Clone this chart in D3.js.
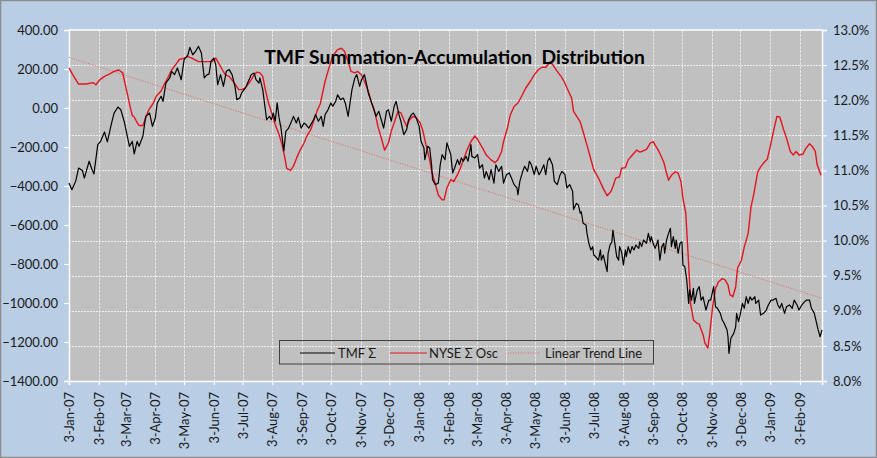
<!DOCTYPE html>
<html><head><meta charset="utf-8">
<script src="https://cdn.jsdelivr.net/npm/d3@7"></script>
<style>
html,body{margin:0;padding:0;background:#fff;}
svg{display:block;}
</style></head>
<body>
<svg id="chart" width="877" height="458"></svg>
<script>
// ---------------- DATA ----------------
const chartTitle = "TMF Summation-Accumulation  Distribution";
const startDate = new Date(2007, 0, 3);   // 3-Jan-07
const spanDays = 785;                      // last observation 26-Feb-09
const leftTicks = [400, 200, 0, -200, -400, -600, -800, -1000, -1200, -1400];
const rightTicks = [13.0, 12.5, 12.0, 11.5, 11.0, 10.5, 10.0, 9.5, 9.0, 8.5, 8.0];
const seriesNames = ["TMF \u03A3", "NYSE \u03A3 Osc", "Linear Trend Line"];
// [days since 3-Jan-07, value]
const tmfSeries = [[0,-385],[3,-419],[7,-375],[10,-308],[14,-321],[16,-359],[18,-325],[21,-273],[24,-316],[26,-338],[30,-188],[33,-171],[37,-123],[40,-174],[44,-85],[47,-26],[51,5],[54,-9],[58,-77],[59,-103],[63,-197],[66,-171],[68,-235],[71,-171],[73,-196],[77,-145],[80,-43],[84,-26],[87,-94],[90,-51],[92,26],[96,60],[98,34],[101,128],[105,154],[107,188],[110,171],[113,205],[117,145],[120,248],[124,273],[126,311],[129,273],[132,291],[135,316],[138,282],[141,154],[144,171],[146,174],[148,239],[151,256],[153,222],[155,120],[158,171],[161,111],[164,188],[167,197],[170,171],[173,111],[175,43],[178,51],[180,77],[184,103],[187,137],[190,171],[193,179],[195,145],[198,128],[199,154],[202,94],[204,17],[206,-60],[209,-43],[211,-60],[213,-26],[215,-68],[217,26],[219,-51],[221,-103],[224,-220],[226,-120],[229,-103],[232,-68],[234,-43],[237,-77],[239,-48],[242,-103],[245,-77],[247,-85],[250,-103],[253,-77],[255,-60],[257,-34],[260,-68],[263,-43],[265,-94],[267,-34],[270,-9],[273,26],[275,9],[278,34],[280,68],[283,43],[286,51],[288,26],[291,-43],[293,26],[295,94],[298,154],[300,171],[303,111],[305,145],[308,171],[310,128],[312,77],[315,34],[318,-9],[320,-43],[323,-17],[326,-68],[328,-103],[331,-17],[333,-9],[336,-68],[339,9],[341,34],[344,-34],[346,-68],[349,-137],[352,-111],[354,-60],[357,-34],[359,-26],[362,-51],[365,-94],[367,-171],[370,-205],[371,-265],[374,-196],[376,-205],[378,-291],[379,-368],[382,-393],[385,-385],[387,-291],[389,-239],[392,-265],[394,-179],[398,-239],[400,-333],[402,-308],[405,-265],[407,-291],[409,-256],[411,-273],[414,-248],[416,-273],[419,-188],[420,-248],[423,-256],[426,-239],[428,-308],[431,-291],[433,-359],[435,-325],[438,-368],[440,-316],[443,-385],[445,-291],[448,-325],[451,-299],[453,-385],[456,-342],[459,-333],[462,-368],[464,-393],[467,-410],[468,-445],[470,-376],[473,-325],[475,-299],[478,-325],[480,-273],[482,-291],[485,-342],[487,-299],[490,-342],[492,-325],[495,-291],[497,-342],[499,-273],[501,-256],[504,-291],[506,-376],[509,-393],[512,-342],[514,-325],[517,-342],[519,-410],[522,-393],[525,-427],[526,-521],[529,-489],[531,-497],[533,-540],[534,-532],[536,-591],[539,-600],[540,-643],[542,-694],[544,-728],[546,-711],[547,-754],[549,-762],[552,-780],[554,-728],[555,-780],[557,-754],[559,-797],[561,-839],[562,-745],[564,-703],[566,-686],[567,-626],[569,-694],[571,-762],[573,-780],[574,-711],[576,-737],[578,-805],[580,-728],[581,-762],[583,-711],[585,-745],[587,-711],[589,-728],[591,-703],[594,-720],[595,-686],[597,-711],[599,-677],[602,-694],[604,-643],[606,-686],[607,-660],[609,-694],[611,-720],[613,-694],[614,-677],[616,-780],[618,-711],[620,-694],[621,-745],[623,-677],[625,-643],[627,-617],[628,-711],[630,-660],[632,-720],[633,-677],[635,-745],[637,-694],[639,-686],[640,-805],[642,-814],[644,-882],[646,-1002],[647,-933],[649,-985],[651,-925],[652,-1002],[655,-933],[657,-916],[659,-985],[661,-968],[664,-1036],[667,-985],[669,-985],[672,-916],[674,-1019],[676,-1027],[679,-1053],[681,-1087],[683,-1104],[686,-1138],[687,-1173],[688,-1258],[690,-1181],[693,-1156],[695,-1122],[696,-1053],[698,-1096],[700,-1053],[702,-1002],[704,-1027],[706,-968],[708,-1002],[710,-968],[712,-985],[715,-968],[716,-1002],[719,-985],[721,-1062],[724,-1053],[727,-1036],[729,-1010],[732,-985],[734,-985],[737,-976],[739,-1010],[741,-1027],[743,-1002],[746,-1053],[748,-1019],[751,-1010],[754,-1027],[756,-985],[759,-1010],[761,-1036],[764,-1010],[767,-993],[769,-985],[772,-985],[774,-1027],[777,-1053],[779,-1096],[781,-1138],[783,-1173],[785,-1138]];
// [days since 3-Jan-07, percent]
const nyseSeries = [[0,12.46],[4,12.36],[10,12.23],[18,12.23],[25,12.25],[28,12.22],[32,12.29],[37,12.34],[42,12.37],[47,12.41],[52,12.43],[56,12.39],[59,12.20],[61,12.08],[64,11.89],[66,11.78],[68,11.76],[71,11.68],[73,11.64],[77,11.64],[80,11.75],[83,11.86],[88,11.96],[91,12.06],[96,12.13],[99,12.22],[103,12.32],[107,12.43],[112,12.52],[115,12.58],[120,12.60],[124,12.62],[128,12.60],[135,12.55],[142,12.55],[149,12.55],[153,12.60],[156,12.53],[160,12.43],[163,12.36],[167,12.34],[172,12.25],[177,12.15],[180,12.15],[184,12.18],[189,12.27],[193,12.36],[196,12.40],[199,12.39],[202,12.34],[205,12.13],[208,11.96],[212,11.79],[215,11.65],[219,11.51],[222,11.37],[225,11.18],[227,11.03],[231,11.00],[234,11.06],[238,11.20],[241,11.29],[245,11.39],[248,11.49],[252,11.58],[255,11.70],[259,11.86],[262,11.95],[264,12.08],[267,12.27],[271,12.46],[275,12.63],[280,12.72],[284,12.74],[287,12.70],[291,12.55],[294,12.41],[298,12.39],[301,12.41],[305,12.36],[308,12.27],[312,12.13],[315,11.98],[319,11.82],[322,11.63],[326,11.44],[329,11.29],[333,11.39],[336,11.56],[340,11.72],[343,11.84],[346,11.82],[349,11.72],[352,11.63],[355,11.72],[359,11.77],[362,11.75],[366,11.68],[369,11.56],[372,11.37],[376,11.15],[378,10.99],[382,10.80],[385,10.65],[389,10.58],[391,10.58],[394,10.75],[398,10.87],[401,10.84],[405,10.94],[408,11.03],[412,11.18],[415,11.29],[419,11.41],[423,11.49],[426,11.44],[431,11.32],[435,11.22],[440,11.15],[444,11.11],[447,11.15],[451,11.27],[453,11.41],[457,11.60],[460,11.79],[464,11.91],[468,11.96],[472,12.06],[476,12.17],[481,12.27],[485,12.36],[489,12.43],[493,12.47],[497,12.47],[500,12.52],[503,12.53],[506,12.47],[509,12.41],[513,12.34],[516,12.27],[520,12.15],[524,12.03],[526,11.84],[533,11.69],[536,11.55],[541,11.31],[547,11.01],[552,10.89],[557,10.74],[561,10.64],[565,10.70],[567,10.77],[570,10.89],[574,10.91],[576,11.03],[580,11.04],[583,11.15],[588,11.23],[592,11.29],[595,11.26],[599,11.28],[602,11.30],[606,11.39],[609,11.41],[612,11.34],[615,11.27],[620,11.12],[622,11.01],[625,10.86],[628,10.93],[632,10.98],[635,10.96],[638,10.84],[640,10.60],[643,10.39],[645,9.90],[647,9.40],[648,9.10],[651,8.87],[655,8.82],[657,8.81],[661,8.66],[663,8.54],[666,8.47],[668,8.68],[671,9.06],[674,9.32],[677,9.41],[681,9.46],[684,9.44],[687,9.37],[689,9.23],[692,9.20],[695,9.34],[697,9.61],[701,9.72],[704,9.91],[708,10.10],[711,10.48],[714,10.67],[718,10.98],[721,11.05],[725,11.12],[728,11.16],[731,11.34],[734,11.53],[738,11.77],[741,11.76],[745,11.58],[748,11.46],[752,11.27],[755,11.22],[758,11.27],[761,11.22],[765,11.23],[768,11.31],[772,11.38],[775,11.34],[778,11.27],[780,11.08],[784,10.93]];
// linear trend of TMF: value at first and last observation
const trendValues = [260, -976];

// ---------------- DRAW ----------------
const W = 877, H = 458;
const plot = {left: 69, right: 822, top: 30, bottom: 381};
const svg = d3.select("#chart");
const FONT = "Lato, 'Open Sans', 'Liberation Sans', sans-serif";
const dayToDate = d => d3.timeDay.offset(startDate, d);
const endDate = dayToDate(spanDays);

svg.append("rect").attr("x",0.5).attr("y",0.5).attr("width",W-1).attr("height",H-1)
  .attr("fill","#B9CDE5").attr("stroke","#8C8C8C").attr("stroke-width",1.5);

const x = d3.scaleTime().domain([startDate, endDate]).range([plot.left, plot.right]);
const yL = d3.scaleLinear().domain([d3.min(leftTicks), d3.max(leftTicks)]).range([plot.bottom, plot.top]);
const yR = d3.scaleLinear().domain([d3.min(rightTicks), d3.max(rightTicks)]).range([plot.bottom, plot.top]);

svg.append("rect").attr("x",plot.left).attr("y",plot.top)
  .attr("width",plot.right-plot.left).attr("height",plot.bottom-plot.top).attr("fill","#C0C0C0");

const monthTicks = d3.timeMonth.range(new Date(2007,0,1), new Date(2009,2,1))
  .map(d => new Date(d.getFullYear(), d.getMonth(), 3));

// gridlines
const grid = svg.append("g");
grid.selectAll(".vg").data(monthTicks.slice(1)).join("line")
  .attr("x1", d => Math.round(x(d))+0.5).attr("x2", d => Math.round(x(d))+0.5)
  .attr("y1", plot.top).attr("y2", plot.bottom)
  .attr("stroke","#E6E6E6").attr("stroke-width",1).attr("stroke-dasharray","3,1");
grid.selectAll(".hg").data(rightTicks.slice(1, -1)).join("line")
  .attr("x1", plot.left).attr("x2", plot.right)
  .attr("y1", d => Math.round(yR(d))+0.5).attr("y2", d => Math.round(yR(d))+0.5)
  .attr("stroke","#EDEDED").attr("stroke-width",1).attr("stroke-dasharray","2,1");

// axes
const axL = svg.append("g").attr("transform",`translate(${plot.left},0)`)
  .call(d3.axisLeft(yL).tickValues(leftTicks).tickFormat(d3.format(".2f")).tickSize(5).tickPadding(6));
const axR = svg.append("g").attr("transform",`translate(${plot.right},0)`)
  .call(d3.axisRight(yR).tickValues(rightTicks).tickFormat(d => d3.format(".1f")(d) + "%").tickSize(5).tickPadding(6));
const axB = svg.append("g").attr("transform",`translate(0,${plot.bottom})`)
  .call(d3.axisBottom(x).tickValues(monthTicks).tickFormat(d3.timeFormat("%-d-%b-%y")).tickSize(4).tickPadding(8));
[axL, axR, axB].forEach(a => {
  a.select(".domain").attr("stroke","#FFFFFF").attr("stroke-width",1.5);
  a.selectAll(".tick line").attr("stroke","#FFFFFF").attr("stroke-width",1.2);
  a.selectAll("text").attr("fill","#1A1A1A").style("font-family",FONT).style("font-size","13px");
});
axB.selectAll(".tick text")
  .attr("transform","rotate(-90)").attr("text-anchor","end")
  .attr("x",-11).attr("y",0).attr("dy","0.35em");
// top border of plot
svg.append("line").attr("x1",plot.left).attr("x2",plot.right).attr("y1",plot.top).attr("y2",plot.top)
  .attr("stroke","#FFFFFF").attr("stroke-width",1.5);

// lines
const trendLine = d3.line().x(d => x(dayToDate(d[0]))).y(d => yL(d[1]));
svg.append("path").datum([[0, trendValues[0]], [spanDays, trendValues[1]]])
  .attr("d", trendLine).attr("fill","none").attr("stroke","#E06A6A")
  .attr("stroke-width",1).attr("stroke-dasharray","1,1.5");

const redLine = d3.line().x(d => x(dayToDate(d[0]))).y(d => yR(d[1]));
svg.append("path").datum(nyseSeries).attr("d", redLine)
  .attr("fill","none").attr("stroke","#E3141E").attr("stroke-width",1.4).attr("stroke-linejoin","round");

const blackLine = d3.line().x(d => x(dayToDate(d[0]))).y(d => yL(d[1]));
svg.append("path").datum(tmfSeries).attr("d", blackLine)
  .attr("fill","none").attr("stroke","#000000").attr("stroke-width",1.2).attr("stroke-linejoin","round");

// title (double space preserved)
const title = svg.append("text").text(chartTitle)
  .attr("x", 454.5).attr("y", 64).attr("text-anchor","middle")
  .attr("xml:space","preserve").style("white-space","pre")
  .style("font-family",FONT).style("font-weight","bold").style("font-size","19px").attr("fill","#000");
const tw = title.node().getComputedTextLength();
title.style("font-size", (19 * 381 / tw).toFixed(2) + "px");

// legend
const lg = svg.append("g");
lg.append("rect").attr("x",279.5).attr("y",340.5).attr("width",374).attr("height",23.5)
  .attr("fill","none").attr("stroke","#404040").attr("stroke-width",1);
const legendItems = [
  {name: seriesNames[0], x1: 300, x2: 335, tx: 338, color: "#000000", dash: null, w: 1.2},
  {name: seriesNames[1], x1: 390, x2: 427, tx: 429, color: "#E3141E", dash: null, w: 1.2},
  {name: seriesNames[2], x1: 508, x2: 540, tx: 545, color: "#E06A6A", dash: "1,1.5", w: 1}
];
legendItems.forEach(it => {
  lg.append("line").attr("x1",it.x1).attr("x2",it.x2).attr("y1",353).attr("y2",353)
    .attr("stroke",it.color).attr("stroke-width",it.w).attr("stroke-dasharray",it.dash);
  lg.append("text").text(it.name).attr("x",it.tx).attr("y",357.5)
    .style("font-family",FONT).style("font-size","13px").attr("fill","#1A1A1A");
});
</script>
</body></html>
